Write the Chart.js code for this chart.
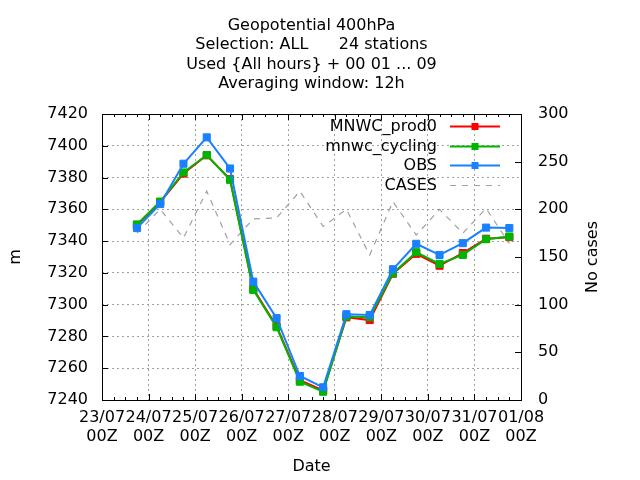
<!DOCTYPE html>
<html>
<head>
<meta charset="utf-8">
<script src="https://cdn.jsdelivr.net/npm/chart.js@4.4.1/dist/chart.umd.min.js"></script>
<style>
  html, body { margin: 0; padding: 0; background: #fff; }
  #wrap { width: 640px; height: 480px; }
</style>
</head>
<body>
<div id="wrap"><canvas id="c" width="640" height="480"></canvas></div>
<script>
// ---------- data ----------
const titleLines = ['Geopotential 400hPa', 'Selection: ALL      24 stations', 'Used {All hours} + 00 01 ... 09', 'Averaging window: 12h'];
const xTickDates = ['23/07', '24/07', '25/07', '26/07', '27/07', '28/07', '29/07', '30/07', '31/07', '01/08'];
const xTickHour = '00Z';
// hours since 23/07 00Z
const pointHours = [18, 30, 42, 54, 66, 78, 90, 102, 114, 126, 138, 150, 162, 174, 186, 198, 210];
const mnwcProd0 = [7350.0, 7364.5, 7382.5, 7394.0, 7379.0, 7310.0, 7286.5, 7252.5, 7246.0, 7292.0, 7290.3, 7319.5, 7332.0, 7324.5, 7332.5, 7341.5, 7342.5];
const mnwcCycling = [7350.5, 7364.9, 7383.2, 7394.2, 7378.6, 7309.3, 7285.8, 7251.5, 7245.2, 7292.5, 7292.1, 7319.8, 7333.0, 7325.7, 7331.3, 7341.2, 7342.9];
const obsValues = [7348.2, 7363.3, 7388.7, 7405.3, 7385.7, 7314.5, 7291.5, 7255.1, 7248.0, 7294.0, 7293.5, 7322.3, 7338.3, 7331.3, 7338.7, 7348.5, 7348.2];
const casesValues = [175, 200, 170, 219, 163, 190, 191, 219, 182, 200, 152, 208, 173, 200, 175, 201, 164];
const seriesNames = ['MNWC_prod0', 'mnwc_cycling', 'OBS', 'CASES'];
const seriesColors = ['#ff0000', '#00b400', '#1a80ff', '#a0a0a0'];
const leftTitle = 'm';
const rightTitle = 'No cases';
const xTitle = 'Date';

const toXY = (arr) => pointHours.map((h, i) => ({ x: h, y: arr[i] }));

const FONT = 'DejaVu Sans';
const FS = 16;
Chart.defaults.font.family = FONT;
Chart.defaults.font.size = FS;
Chart.defaults.color = '#000';

// title centred over the plot area (gnuplot style)
const titlePlugin = {
  id: 'gtitle',
  afterDraw(chart) {
    const { ctx, chartArea: a } = chart;
    ctx.save();
    ctx.font = FS + 'px "' + FONT + '"';
    ctx.fillStyle = '#000';
    ctx.textAlign = 'center';
    ctx.textBaseline = 'middle';
    const cx = (a.left + a.right) / 2;
    titleLines.forEach((t, i) => ctx.fillText(t, cx, 25.5 + i * 19.5));
    ctx.restore();
  }
};

// frame + inward ticks (gnuplot style) + right axis title reading upward
const framePlugin = {
  id: 'frame',
  afterDraw(chart) {
    const { ctx, chartArea: a, scales } = chart;
    ctx.save();
    ctx.strokeStyle = '#000';
    ctx.lineWidth = 1;
    ctx.setLineDash([]);
    ctx.strokeRect(Math.round(a.left) + 0.5, Math.round(a.top) + 0.5, Math.round(a.right - a.left), Math.round(a.bottom - a.top));
    ctx.beginPath();
    scales.y.ticks.forEach(t => {
      const y = Math.round(scales.y.getPixelForValue(t.value)) + 0.5;
      ctx.moveTo(a.left, y); ctx.lineTo(a.left + 6, y);
    });
    scales.y2.ticks.forEach(t => {
      const y = Math.round(scales.y2.getPixelForValue(t.value)) + 0.5;
      ctx.moveTo(a.right, y); ctx.lineTo(a.right - 6, y);
    });
    const xs = scales.x;
    for (let h = xs.min; h <= xs.max; h += 6) {
      const x = Math.round(xs.getPixelForValue(h)) + 0.5;
      const len = (h % 24 === 0) ? 6 : 3;
      ctx.moveTo(x, a.bottom); ctx.lineTo(x, a.bottom - len);
      ctx.moveTo(x, a.top); ctx.lineTo(x, a.top + len);
    }
    ctx.stroke();
    ctx.font = FS + 'px "' + FONT + '"';
    ctx.fillStyle = '#000';
    ctx.textAlign = 'center';
    ctx.textBaseline = 'middle';
    ctx.translate(593, (a.top + a.bottom) / 2);
    ctx.rotate(-Math.PI / 2);
    ctx.fillText(rightTitle, 0, 0);
    ctx.restore();
  }
};

// gnuplot-like key at top right inside the plot
const keyPlugin = {
  id: 'gkey',
  afterDraw(chart) {
    const { ctx, chartArea: a } = chart;
    const textRight = a.right - 84;
    const x0 = a.right - 71, x1 = a.right - 21;
    const rowH = 19.6;
    ctx.save();
    ctx.font = FS + 'px "' + FONT + '"';
    ctx.textAlign = 'right';
    ctx.textBaseline = 'middle';
    chart.data.datasets.forEach((ds, i) => {
      const y = a.top + 12 + i * rowH;
      ctx.fillStyle = '#000';
      ctx.fillText(ds.label, textRight, y + 1);
      ctx.strokeStyle = ds.borderColor;
      ctx.lineWidth = ds.borderWidth;
      ctx.setLineDash(ds.borderDash || []);
      ctx.beginPath();
      ctx.moveTo(x0, Math.round(y) + 0.5);
      ctx.lineTo(x1, Math.round(y) + 0.5);
      ctx.stroke();
      ctx.setLineDash([]);
      if (ds.pointRadius > 0) {
        const s = 7;
        ctx.fillStyle = ds.borderColor;
        ctx.fillRect((x0 + x1) / 2 - s / 2, Math.round(y) + 0.5 - s / 2, s, s);
      }
    });
    ctx.restore();
  }
};

const lineDs = (label, arr, color, order) => ({
  label, data: toXY(arr), borderColor: color, backgroundColor: color,
  borderWidth: 2, pointStyle: 'rect', pointRadius: 5, pointBorderWidth: 1,
  pointBackgroundColor: color, pointBorderColor: color,
  tension: 0, yAxisID: 'y', order
});

new Chart(document.getElementById('c'), {
  type: 'line',
  data: {
    datasets: [
      lineDs(seriesNames[0], mnwcProd0, seriesColors[0], 3),
      lineDs(seriesNames[1], mnwcCycling, seriesColors[1], 2),
      lineDs(seriesNames[2], obsValues, seriesColors[2], 1),
      {
        label: seriesNames[3], data: toXY(casesValues), borderColor: seriesColors[3],
        borderWidth: 1.2, borderDash: [6, 6], pointRadius: 0, tension: 0,
        yAxisID: 'y2', order: 4
      }
    ]
  },
  options: {
    responsive: false,
    animation: false,
    devicePixelRatio: 1,
    layout: { padding: { top: 114, left: 0, right: 0, bottom: 0 } },
    plugins: {
      legend: { display: false },
      tooltip: { enabled: false },
      title: { display: false }
    },
    scales: {
      x: {
        type: 'linear',
        min: 0, max: 216,
        afterFit(s) { s.height = 80; },
        ticks: {
          stepSize: 24, autoSkip: false, maxRotation: 0, minRotation: 0,
          padding: 8,
          font: { family: FONT, size: FS, lineHeight: 1.2 },
          callback(v) { const i = Math.round(v / 24); return [xTickDates[i], xTickHour]; }
        },
        grid: { color: '#a0a0a0', lineWidth: 1, drawTicks: false },
        border: { display: false, dash: [2, 3] },
        title: { display: true, text: xTitle, font: { family: FONT, size: FS }, padding: { top: 0, bottom: 4 } }
      },
      y: {
        position: 'left',
        min: 7240, max: 7420,
        afterFit(s) { s.width = 102; },
        ticks: { stepSize: 20, padding: 14, font: { family: FONT, size: FS }, callback(v) { return String(v); } },
        grid: { color: '#a0a0a0', lineWidth: 1, drawTicks: false },
        border: { display: false, dash: [2, 3] },
        title: { display: true, text: leftTitle, font: { family: FONT, size: FS }, padding: { top: 6, bottom: 0 } }
      },
      y2: {
        position: 'right',
        min: 0, max: 300,
        afterFit(s) { s.width = 119; },
        ticks: { stepSize: 50, padding: 17, font: { family: FONT, size: FS }, callback(v) { return String(v); } },
        grid: { drawOnChartArea: false, drawTicks: false },
        border: { display: false },
        title: { display: false }
      }
    }
  },
  plugins: [titlePlugin, framePlugin, keyPlugin]
});
</script>
</body>
</html>
